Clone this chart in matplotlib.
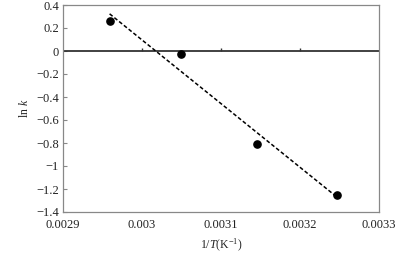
import numpy as np
import matplotlib
matplotlib.use('Agg')
import matplotlib.pyplot as plt

plt.rcParams['font.family'] = ['Liberation Serif', 'DejaVu Serif']
plt.rcParams['mathtext.fontset'] = 'custom'
plt.rcParams['mathtext.it'] = 'Liberation Serif:italic'
plt.rcParams['mathtext.rm'] = 'Liberation Serif'

inv_T = [0.002959, 0.003049, 0.003145, 0.003247]
ln_k = [0.26, -0.03, -0.81, -1.25]
x_ticks = [0.0029, 0.003, 0.0031, 0.0032, 0.0033]
x_tick_labels = ["0.0029", "0.003", "0.0031", "0.0032", "0.0033"]
y_ticks = [0.4, 0.2, 0, -0.2, -0.4, -0.6, -0.8, -1, -1.2, -1.4]
y_tick_labels = ["0.4", "0.2", "0", "\u22120.2", "\u22120.4", "\u22120.6",
                 "\u22120.8", "\u22121", "\u22121.2", "\u22121.4"]

fig = plt.figure(figsize=(4.07, 2.6), dpi=100)
ax = fig.add_axes([63 / 407, 1 - 212 / 260, 316 / 407, 207 / 260])

# linear trend line over data range
p = np.polyfit(inv_T, ln_k, 1)
xs = np.array([min(inv_T), max(inv_T)])
ax.plot(xs, np.polyval(p, xs), color='black', linestyle=(0, (2.5, 1.5)), linewidth=1.1, zorder=3)
ax.plot(inv_T, ln_k, 'o', color='black', markersize=5.2, zorder=4)

ax.axhline(0, color='#333333', linewidth=1.3, zorder=2)
ax.vlines(x_ticks[1:-1], 0, 0.03, color='#333333', linewidth=1.0, zorder=2)

ax.set_xlim(0.0029, 0.0033)
ax.set_ylim(-1.4, 0.4)
ax.set_xticks(x_ticks)
ax.set_xticklabels(x_tick_labels)
ax.set_yticks(y_ticks)
ax.set_yticklabels(y_tick_labels)
ax.tick_params(axis='x', length=0, pad=5, labelsize=9, colors='#222222')
ax.tick_params(axis='y', direction='in', length=3, width=0.8, color='#888888', pad=3, labelsize=9, labelcolor='#222222')
for s in ax.spines.values():
    s.set_color('#888888')
    s.set_linewidth(0.9)

ax.set_xlabel(r"1/$\mathit{T}$(K$^{-1}$)", fontsize=8.5, labelpad=4, color='#222222')
ax.set_ylabel(r"ln $\mathit{k}$", fontsize=8.5, labelpad=4, color='#222222')

fig.savefig("out.png", dpi=100)
